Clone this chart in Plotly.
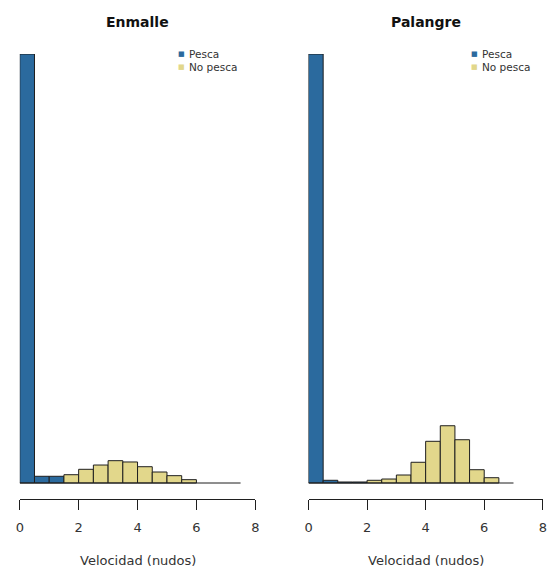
import plotly.graph_objects as go

# ---------------- data ----------------
bin_width = 0.5
enmalle_left = [0.0, 0.5, 1.0, 1.5, 2.0, 2.5, 3.0, 3.5, 4.0, 4.5, 5.0, 5.5, 6.0, 6.5, 7.0]
enmalle_pesca = [76.1, 1.19, 1.19, 0, 0, 0, 0, 0, 0, 0, 0, 0, 0, 0, 0]
enmalle_nopesca = [0, 0, 0, 1.47, 2.43, 3.19, 3.96, 3.73, 2.89, 1.95, 1.30, 0.59, 0, 0, 0]

palangre_left = [0.0, 0.5, 1.0, 1.5, 2.0, 2.5, 3.0, 3.5, 4.0, 4.5, 5.0, 5.5, 6.0, 6.5]
palangre_pesca = [68.1, 0.43, 0.16, 0.16, 0, 0, 0, 0, 0, 0, 0, 0, 0, 0]
palangre_nopesca = [0, 0, 0, 0, 0.43, 0.63, 1.27, 3.29, 6.62, 9.09, 6.87, 2.11, 0.84, 0]

titles = ["Enmalle", "Palangre"]
series_names = ["Pesca", "No pesca"]
x_ticks = [0, 2, 4, 6, 8]
x_title = "Velocidad (nudos)"

# ---------------- style ----------------
W, H = 552, 568
BLUE = "#2b6a9e"
YELLOW = "#e2d78b"
EDGE = "#1f1f1f"
FONT = "DejaVu Sans"
TXT = "#333333"

def px_x(p):
    return p / W

def px_y(p):
    return (H - p) / H

# plot area in pixels
x_doms = [(16, 255), (309, 546.7)]
y_top, y_axis, y_base = 54, 499, 483

fig = go.Figure()

panels = [
    (enmalle_left, enmalle_pesca, enmalle_nopesca),
    (palangre_left, palangre_pesca, palangre_nopesca),
]

for i, (lefts, pes, nop) in enumerate(panels):
    xa = "x" if i == 0 else "x2"
    ya = "y" if i == 0 else "y2"
    last_edge = lefts[-1] + bin_width
    # baseline (empty bins)
    fig.add_trace(go.Scatter(x=[lefts[0], last_edge], y=[0, 0], mode="lines",
                             line=dict(color=EDGE, width=1), xaxis=xa, yaxis=ya,
                             showlegend=False, hoverinfo="skip"))
    for vals, col in ((pes, BLUE), (nop, YELLOW)):
        xs = [l + bin_width / 2 for l, v in zip(lefts, vals) if v > 0]
        ys = [v for v in vals if v > 0]
        fig.add_trace(go.Bar(x=xs, y=ys, width=bin_width, marker=dict(color=col, line=dict(color=EDGE, width=1)),
                             xaxis=xa, yaxis=ya, showlegend=False))

layout = dict(width=W, height=H, margin=dict(l=0, r=0, t=0, b=0),
              plot_bgcolor="white", paper_bgcolor="white", barmode="overlay",
              font=dict(family=FONT, color=TXT), showlegend=False)

annotations = []
for i, (lefts, pes, nop) in enumerate(panels):
    suffix = "" if i == 0 else "2"
    x0, x1 = x_doms[i]
    tall = max(max(pes), max(nop))
    ymin = -(y_axis - y_base) / (y_base - y_top) * tall
    layout["xaxis" + suffix] = dict(domain=[px_x(x0), px_x(x1)], range=[0, 8], tickvals=x_ticks,
                                    showline=True, linecolor=EDGE, linewidth=1, ticks="outside",
                                    ticklen=10, tickcolor=EDGE, tickwidth=1, showgrid=False, zeroline=False,
                                    tickfont=dict(size=13, color=TXT, family=FONT), ticklabelstandoff=6,
                                    anchor="y" + suffix, fixedrange=True)
    layout["yaxis" + suffix] = dict(domain=[px_y(y_axis), px_y(y_top)], range=[ymin, tall], visible=False,
                                    anchor="x" + suffix, fixedrange=True)
    cx = (x0 + x1) / 2
    annotations.append(dict(text="<b>" + titles[i] + "</b>", x=px_x(cx), y=px_y(22), xref="paper", yref="paper",
                            xanchor="center", yanchor="middle", showarrow=False,
                            font=dict(size=14, color="#111111", family=FONT)))
    annotations.append(dict(text=x_title, x=px_x(cx), y=px_y(560), xref="paper", yref="paper",
                            xanchor="center", yanchor="middle", showarrow=False,
                            font=dict(size=13, color=TXT, family=FONT)))
    # legend
    lx = 175 if i == 0 else 472
    for j, (name, col) in enumerate(zip(series_names, (BLUE, YELLOW))):
        ly = 54 + 13 * j
        annotations.append(dict(text="■", x=px_x(lx), y=px_y(ly), xref="paper", yref="paper",
                                xanchor="left", yanchor="middle", showarrow=False,
                                font=dict(size=7, color=col, family=FONT)))
        annotations.append(dict(text=name, x=px_x(lx + 11), y=px_y(ly), xref="paper", yref="paper",
                                xanchor="left", yanchor="middle", showarrow=False,
                                font=dict(size=10.5, color=TXT, family=FONT)))

layout["annotations"] = annotations
fig.update_layout(**layout)
fig.write_html("out.html")
